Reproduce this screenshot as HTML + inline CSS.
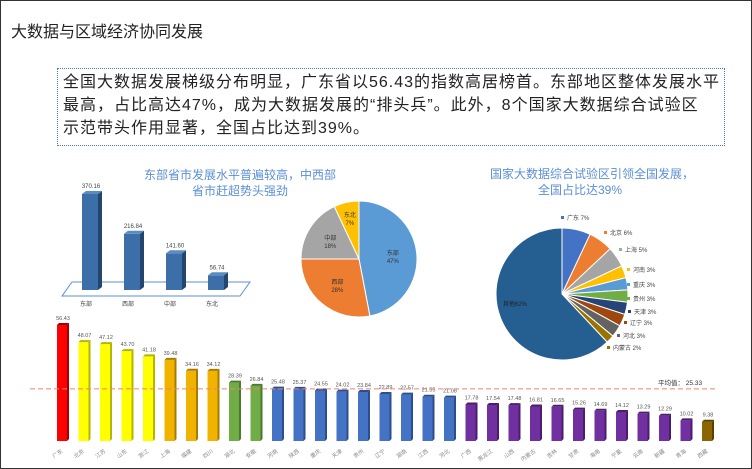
<!DOCTYPE html>
<html><head><meta charset="utf-8">
<style>
html,body{margin:0;padding:0;background:#fff;}
body{width:752px;height:469px;overflow:hidden;position:relative;font-family:"Liberation Sans","Noto Sans CJK SC",sans-serif;}
#frame{position:absolute;left:0;top:0;width:750px;height:467px;border:1px solid #333;}
#title{position:absolute;left:11px;top:18px;font-size:16px;color:#222;}
#box{position:absolute;left:57px;top:68px;width:668px;height:78px;border:1px dotted #4a78c8;font-size:16px;line-height:23px;color:#222;padding:2px 0 0 5px;box-sizing:border-box;white-space:nowrap;letter-spacing:1px;}
svg{position:absolute;left:0;top:0;}
</style></head><body>
<div id="frame"></div>
<div id="title">大数据与区域经济协同发展</div>
<div id="box">全国大数据发展梯级分布明显，广东省以56.43的指数高居榜首。东部地区整体发展水平<br>最高，占比高达47%，成为大数据发展的“排头兵”。此外，8个国家大数据综合试验区<br>示范带头作用显著，全国占比达到39%。</div>
<svg id="chart" width="752" height="469"></svg>
<script>
const regionCats=["东部","西部","中部","东北"];
const regionVals=[370.16,216.84,141.60,56.74];
const regionLabels=["370.16","216.84","141.60","56.74"];
const pieCats=["东部","西部","中部","东北"];
const pieVals=[47,28,18,7];
const zoneCats=["广东","北京","上海","河南","重庆","贵州","天津","辽宁","河北","内蒙古","其他"];
const zoneVals=[7,6,5,3,3,3,3,3,3,2,62];
const provCats=["广东","北京","江苏","山东","浙江","上海","福建","四川","湖北","安徽","河南","陕西","重庆","天津","贵州","辽宁","湖南","江西","河北","广西","黑龙江","山西","内蒙古","吉林","甘肃","海南","宁夏","云南","新疆","青海","西藏"];
const provVals=[56.43,48.07,47.12,43.70,41.18,39.48,34.16,34.12,28.39,26.84,25.48,25.37,24.55,24.02,23.84,22.89,22.57,21.55,21.08,17.78,17.54,17.48,16.81,16.65,15.26,14.69,14.12,13.29,12.29,10.02,9.38];
const provGroup=[0,1,1,1,1,2,2,2,3,3,4,4,4,4,4,4,4,4,4,5,5,5,5,5,5,5,5,5,5,5,6];
const avgVal=25.33;

const NS="http://www.w3.org/2000/svg";
const svg=document.getElementById('chart');
function el(t,a,p){const e=document.createElementNS(NS,t);for(const k in a)e.setAttribute(k,a[k]);(p||svg).appendChild(e);return e;}

// ---- region bar chart
let g=el('g',{});


let t=el('text',{x:240,y:179,'text-anchor':'middle','font-size':12,fill:'#5b8fd6'},g);t.textContent="东部省市发展水平普遍较高，中西部";

t=el('text',{x:240,y:195,'text-anchor':'middle','font-size':12,fill:'#5b8fd6'},g);t.textContent="省市赶超势头强劲";
el('polygon',{points:"72,282 250,282 240,296 62,296",fill:'none',stroke:'#5b8fd6','stroke-width':1},g);
const rBase=290, rScale=96/370.16;
regionVals.forEach((v,i)=>{
  const x=82+i*42, h=v*rScale, y=rBase-h;
  const b=el('rect',{x:x,y:y,width:16,height:h,fill:'#3c6ea8'},g);
  
  el('polygon',{points:`${x+16},${y} ${x+20},${y-3} ${x+20},${rBase-3} ${x+16},${rBase}`,fill:'#24466e'},g);
  el('polygon',{points:`${x},${y} ${x+4},${y-3} ${x+20},${y-3} ${x+16},${y}`,fill:'#5a8cc4'},g);
  let lt=el('text',{x:x+9,y:y-6,'text-anchor':'middle','font-size':6,fill:'#444'},g);lt.textContent=regionLabels[i];
  let ct=el('text',{x:x+4,y:306,'text-anchor':'middle','font-size':6,fill:'#444'},g);ct.textContent=regionCats[i];
});

// ---- region pie
g=el('g',{});


const pc=['#5b9bd5','#ed7d31','#a5a5a5','#ffc000'];
function pie(cx,cy,r,vals,cols,grp,names,prefix){
  const tot=vals.reduce((a,b)=>a+b,0);let a0=-Math.PI/2;const mids=[];
  vals.forEach((v,i)=>{
    const a1=a0+v/tot*2*Math.PI;
    const large=(a1-a0)>Math.PI?1:0;
    const p=el('path',{d:`M${cx},${cy} L${cx+r*Math.cos(a0)},${cy+r*Math.sin(a0)} A${r},${r} 0 ${large} 1 ${cx+r*Math.cos(a1)},${cy+r*Math.sin(a1)} Z`,fill:cols[i],stroke:'#fff','stroke-width':1},grp);
    
    mids.push((a0+a1)/2);a0=a1;
  });return mids;
}
const m=pie(359,259,58,pieVals,pc,g,pieCats,'region');
pieVals.forEach((v,i)=>{
  const rr=i==3?42:34;const x=359+rr*Math.cos(m[i]),y=259+rr*Math.sin(m[i]);
  let a=el('text',{x:x,y:y-1,'text-anchor':'middle','font-size':6,fill:'#333'},g);a.textContent=pieCats[i];
  let b=el('text',{x:x,y:y+7,'text-anchor':'middle','font-size':6,fill:'#333'},g);b.textContent=v+'%';
});

// ---- zone pie
g=el('g',{});


t=el('text',{x:592,y:178,'text-anchor':'middle','font-size':12,fill:'#5b8fd6'},g);t.textContent="国家大数据综合试验区引领全国发展，";
t=el('text',{x:580,y:194,'text-anchor':'middle','font-size':12,fill:'#5b8fd6'},g);t.textContent="全国占比达39%";
const zc=['#4472c4','#ed7d31','#a5a5a5','#ffc000','#5b9bd5','#70ad47','#264478','#9e480e','#636363','#997300','#255e91'];
pie(562,294,66,zoneVals,zc,g,zoneCats,'zone');
const legX=[567,610,625,633,633,633,634,630,623,613];
const legY=[220,235,252,272,287,301,314,325,338,350];
zoneCats.forEach((c,i)=>{
  if(i==10){let tt=el('text',{x:503,y:306,'font-size':6,fill:'#222'},g);tt.textContent='其他'+zoneVals[i]+'%';return;}
  const x=legX[i], y=legY[i];
  el('rect',{x:x-6,y:y-4,width:3,height:3,fill:zc[i]},g);
  let tt=el('text',{x:x,y:y,'font-size':6,fill:'#444'},g);tt.textContent=c+' '+zoneVals[i]+'%';
});

// ---- province bar chart
g=el('g',{});


const cols=[['#ff0000','#a00000'],['#ffff00','#b5b500'],['#f0b400','#a67c00'],['#70ad47','#4a7a2e'],['#4472c4','#2c4e8a'],['#7030a0','#4a1e6c'],['#8c6400','#5a4000']];
const base=441, sc=116/56.43, x0=57, step=21.5;
const yv=v=>base-v*sc;
provVals.forEach((v,i)=>{
  const x=x0+i*step, y=yv(v), c=cols[provGroup[i]];
  const b=el('rect',{x:x,y:y,width:10,height:base-y,fill:c[0]},g);
  
  el('polygon',{points:`${x+10},${y} ${x+12},${y-2} ${x+12},${base-2} ${x+10},${base}`,fill:c[1]},g);
  el('polygon',{points:`${x},${y} ${x+2},${y-2} ${x+12},${y-2} ${x+10},${y}`,fill:c[1]},g);
  let lt=el('text',{x:x+6,y:y-5,'text-anchor':'middle','font-size':5.5,fill:'#555'},g);lt.textContent=v.toFixed(2);
  let ct=el('text',{x:x+6,y:452,'text-anchor':'end','font-size':5.5,fill:'#888',transform:`rotate(-35 ${x+6} 452)`},g);ct.textContent=provCats[i];
});
const ay=yv(avgVal);
const ln=el('line',{x1:30,y1:ay,x2:716,y2:ay,stroke:'#f08070','stroke-width':1,'stroke-dasharray':'5,3'},g);

t=el('text',{x:658,y:ay-4,'font-size':6.5,fill:'#333'},g);t.textContent='平均值： '+avgVal;
</script>
</body></html>
